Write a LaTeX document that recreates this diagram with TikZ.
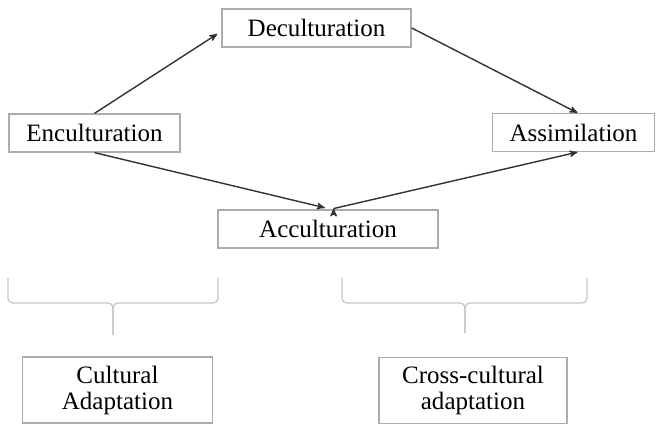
\documentclass[tikz,border=0pt]{standalone}
\usepackage{fontspec}
\setmainfont{Liberation Serif}
\usepackage{tikz}
\usetikzlibrary{arrows, positioning}
\tikzset{
>=stealth', % small sharp arrow heads
conceptbox/.style={draw=gray!65, line width=0.9pt, minimum height=0.95cm, inner sep=0pt, font=\fontsize{17.8}{18.5}\selectfont}, % boxes of the diagram
bracket/.style={draw=gray!45, line width=0.9pt, rounded corners=0.12cm}, % brackets above the bottom boxes
flow/.style={->, draw=black!80, line width=1pt}, % arrows between the stages
}
\begin{document}
\begin{tikzpicture}[x=0.025cm, y=-0.025cm]%pixel grid of the figure
  \useasboundingbox (0,0) rectangle (656,427);
  \node[conceptbox, minimum width=4.73cm] (dec) at (316.5,28) {Deculturation};
  \node[conceptbox, minimum width=4.28cm] (enc) at (94.5,133) {Enculturation};
  \node[conceptbox, minimum width=4.05cm] (assim) at (573.5,132.5) {Assimilation};
  \node[conceptbox, minimum width=5.5cm] (acc) at (328,229) {Acculturation};
  \node[conceptbox, minimum width=4.75cm, minimum height=1.65cm, align=center] (cultad) at (117.5,390) {Cultural\\Adaptation};
  \node[conceptbox, minimum width=4.7cm, minimum height=1.65cm, align=center] (crossad) at (473,390.5) {Cross-cultural\\adaptation};

  \path[flow]
  (enc.north) edge ([xshift=-0.1cm,yshift=-0.15cm]dec.west)
  (dec.east) edge ([xshift=0.1cm]assim.north)
  (enc.south) edge ([xshift=-0.08cm,yshift=0.04cm]acc.north)
  ([xshift=0.14cm,yshift=0.02cm]acc.north) edge ([xshift=0.1cm]assim.south);

  % brackets
  \coordinate (lbl) at (8,278);
  \coordinate (lbr) at (218,278);
  \coordinate (lstem) at (113,335);
  \coordinate (rbl) at (342,278);
  \coordinate (rbr) at (587,278);
  \coordinate (rstem) at (465,333);
  \draw[bracket] (lbl) |- (lstem |- 0,303) -- (lstem);
  \draw[bracket] (lbr) |- (lstem |- 0,303) -- (lstem);
  \draw[bracket] (rbl) |- (rstem |- 0,303) -- (rstem);
  \draw[bracket] (rbr) |- (rstem |- 0,303) -- (rstem);
\end{tikzpicture}
\end{document}
